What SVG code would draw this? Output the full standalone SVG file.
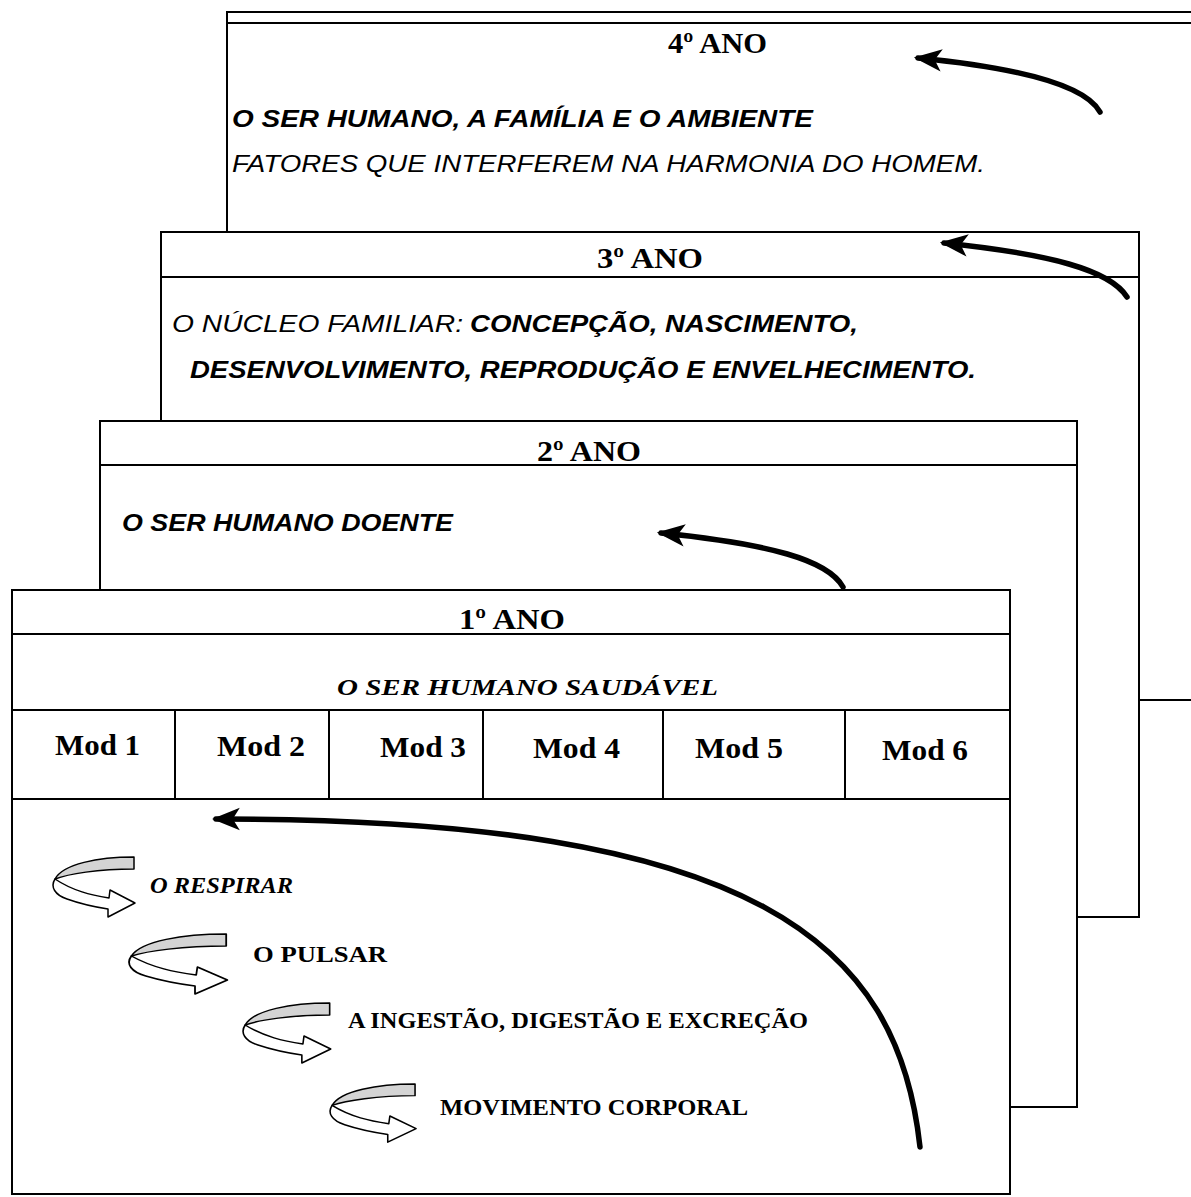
<svg xmlns="http://www.w3.org/2000/svg" width="1191" height="1197" viewBox="0 0 1191 1197">
  <defs>
    <style>
      .card{fill:#fff;stroke:#000;stroke-width:2}
      .rule{fill:none;stroke:#000;stroke-width:2}
      .title{font-family:"Liberation Serif",serif;font-weight:bold;font-size:30px}
      .sans{font-family:"Liberation Sans",sans-serif;font-style:italic;font-size:24px}
      .b{font-weight:bold}
      .mod{font-family:"Liberation Serif",serif;font-weight:bold;font-size:30px}
      .topic{font-family:"Liberation Serif",serif;font-weight:bold;font-size:24px}
      .it{font-style:italic}
      .flow{fill:none;stroke:#000;stroke-width:5.5;stroke-linecap:round}
      .band-back{fill:#d4d4d4;stroke:#000;stroke-width:1.5;stroke-linejoin:round}
      .band-front{fill:#fff;stroke:#000;stroke-width:1.5;stroke-linejoin:round}
    </style>
    <marker id="head" viewBox="0 0 20 20" refX="17" refY="10" markerWidth="28" markerHeight="28" markerUnits="userSpaceOnUse" orient="auto">
      <path d="M0,2 L20,10 L0,18 L5,10 Z" fill="#000"/>
    </marker>
    <!-- ribbon U-turn arrow used beside each topic -->
    <g id="twist">
      <path class="band-back" d="M81,0 C45,0 10,7 2,22 C15,17 45,12 81,12 Z"/>
      <path class="band-front" d="M2,22 C-3,30 2,38 14,42 C28,47 42,50 55,52 L55,60 L82,46 L57,33 L56,41 C38,38 20,34 2,22 Z"/>
    </g>
  </defs>

  <!-- 4th year card (back) -->
  <g id="ano4">
    <rect class="card" x="227" y="12" width="980" height="688"/>
    <line class="rule" x1="227" y1="23" x2="1191" y2="23"/>
    <text class="title" x="668" y="53" textLength="99" lengthAdjust="spacingAndGlyphs">4º ANO</text>
    <text class="sans b" x="232" y="127" textLength="581" lengthAdjust="spacingAndGlyphs">O SER HUMANO, A FAMÍLIA E O AMBIENTE</text>
    <text class="sans" x="232" y="172" textLength="753" lengthAdjust="spacingAndGlyphs">FATORES QUE INTERFEREM NA HARMONIA DO HOMEM.</text>
  </g>

  <!-- 3rd year card -->
  <g id="ano3">
    <rect class="card" x="161" y="232" width="978" height="685"/>
    <line class="rule" x1="161" y1="277" x2="1139" y2="277"/>
    <text class="title" x="597" y="268" textLength="106" lengthAdjust="spacingAndGlyphs">3º ANO</text>
    <text class="sans" x="172" y="332" textLength="291" lengthAdjust="spacingAndGlyphs">O NÚCLEO FAMILIAR:</text>
    <text class="sans b" x="470" y="332" textLength="388" lengthAdjust="spacingAndGlyphs">CONCEPÇÃO, NASCIMENTO,</text>
    <text class="sans b" x="190" y="378" textLength="786" lengthAdjust="spacingAndGlyphs">DESENVOLVIMENTO, REPRODUÇÃO E ENVELHECIMENTO.</text>
  </g>

  <!-- 2nd year card -->
  <g id="ano2">
    <rect class="card" x="100" y="421" width="977" height="686"/>
    <line class="rule" x1="100" y1="465" x2="1077" y2="465"/>
    <text class="title" x="537" y="461" textLength="104" lengthAdjust="spacingAndGlyphs">2º ANO</text>
    <text class="sans b" x="122" y="531" textLength="331" lengthAdjust="spacingAndGlyphs">O SER HUMANO DOENTE</text>
  </g>

  <!-- 1st year card (front) -->
  <g id="ano1">
    <rect class="card" x="12" y="590" width="998" height="604"/>
    <line class="rule" x1="12" y1="634" x2="1010" y2="634"/>
    <line class="rule" x1="12" y1="710" x2="1010" y2="710"/>
    <line class="rule" x1="12" y1="799" x2="1010" y2="799"/>
    <text class="title" x="459" y="629" textLength="106" lengthAdjust="spacingAndGlyphs">1º ANO</text>
    <text class="topic it" x="337" y="695" textLength="381" lengthAdjust="spacingAndGlyphs">O SER HUMANO SAUDÁVEL</text>
  </g>

  <!-- module cells -->
  <g id="modulos">
    <line class="rule" x1="175" y1="710" x2="175" y2="799"/>
    <line class="rule" x1="329" y1="710" x2="329" y2="799"/>
    <line class="rule" x1="483" y1="710" x2="483" y2="799"/>
    <line class="rule" x1="663" y1="710" x2="663" y2="799"/>
    <line class="rule" x1="845" y1="710" x2="845" y2="799"/>
    <text class="mod" x="55" y="755" textLength="85" lengthAdjust="spacingAndGlyphs">Mod 1</text>
    <text class="mod" x="217" y="756" textLength="88" lengthAdjust="spacingAndGlyphs">Mod 2</text>
    <text class="mod" x="380" y="757" textLength="86" lengthAdjust="spacingAndGlyphs">Mod 3</text>
    <text class="mod" x="533" y="758" textLength="87" lengthAdjust="spacingAndGlyphs">Mod 4</text>
    <text class="mod" x="695" y="758" textLength="88" lengthAdjust="spacingAndGlyphs">Mod 5</text>
    <text class="mod" x="882" y="760" textLength="86" lengthAdjust="spacingAndGlyphs">Mod 6</text>
  </g>

  <!-- topics of the 1st year -->
  <g id="topicos">
    <use href="#twist" transform="translate(53,857)"/>
    <text class="topic it" x="150" y="893" textLength="143" lengthAdjust="spacingAndGlyphs">O RESPIRAR</text>
    <use href="#twist" transform="translate(129,934) scale(1.2,1)"/>
    <text class="topic" x="253" y="962" textLength="134" lengthAdjust="spacingAndGlyphs">O PULSAR</text>
    <use href="#twist" transform="translate(243,1003) scale(1.07,1)"/>
    <text class="topic" x="348" y="1028" textLength="460" lengthAdjust="spacingAndGlyphs">A INGESTÃO, DIGESTÃO E EXCREÇÃO</text>
    <use href="#twist" transform="translate(330,1084) scale(1.05,0.97)"/>
    <text class="topic" x="440" y="1115" textLength="308" lengthAdjust="spacingAndGlyphs">MOVIMENTO CORPORAL</text>
  </g>

  <!-- progression arrows -->
  <g id="setas">
    <path class="flow" marker-end="url(#head)" d="M1100,112 C1085,85 1020,68 918,58"/>
    <path class="flow" marker-end="url(#head)" d="M1127,297 C1110,270 1050,254 944,243"/>
    <path class="flow" marker-end="url(#head)" d="M843,587 C828,560 770,544 661,533"/>
    <path class="flow" marker-end="url(#head)" d="M920,1147 C898,945 760,818 216,819"/>
  </g>
</svg>
